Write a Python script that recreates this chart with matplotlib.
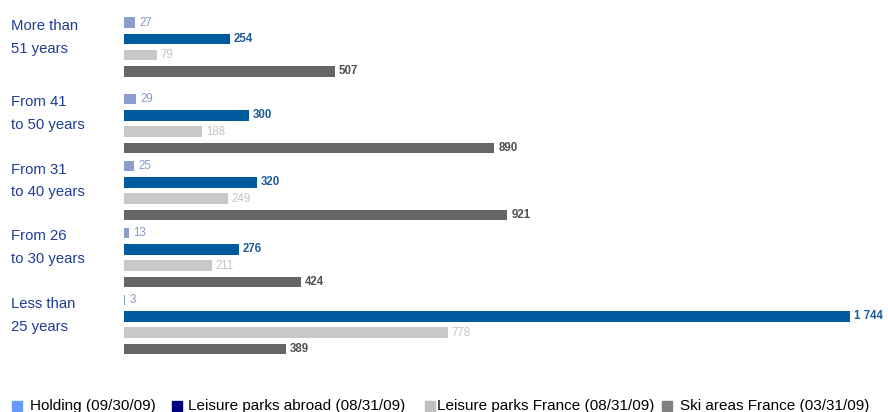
import matplotlib
matplotlib.use("Agg")
import matplotlib.pyplot as plt
from matplotlib.patches import Rectangle
from matplotlib import font_manager

plt.rcParams['font.family'] = ['Liberation Sans', 'DejaVu Sans']

categories = ["More than\n51 years", "From 41\nto 50 years", "From 31\nto 40 years",
              "From 26\nto 30 years", "Less than\n25 years"]
series = ["Holding (09/30/09)", "Leisure parks abroad (08/31/09)",
          "Leisure parks France (08/31/09)", "Ski areas France (03/31/09)"]
holding = [27, 29, 25, 13, 3]
parks_abroad = [254, 300, 320, 276, 1744]
parks_france = [79, 188, 249, 211, 778]
ski_france = [507, 890, 921, 424, 389]
values = [holding, parks_abroad, parks_france, ski_france]

bar_colors = ["#8a9dcc", "#005a9e", "#c8c8c8", "#666666"]
text_colors = ["#8497c8", "#1b5ca0", "#c4c4c4", "#505050"]
legend_colors = ["#6699ff", "#000080", "#c0c0c0", "#808080"]

names = {f.name for f in font_manager.fontManager.ttflist}
narrow = 'Liberation Sans Narrow' if 'Liberation Sans Narrow' in names else 'Liberation Sans'

W, H = 888, 412
fig = plt.figure(figsize=(W / 100, H / 100), dpi=100)
ax = fig.add_axes([0, 0, 1, 1])
x0 = 124
scale = (850 - x0) / 1744.0
ax.set_xlim(-x0 / scale, (W - x0) / scale)
ax.set_ylim(H, 0)
ax.axis("off")

group_top = [22.5, 99, 166, 233, 300]
step = 16.3
for gi, gy in enumerate(group_top):
    for si in range(4):
        v = values[si][gi]
        y = gy + si * step
        ax.barh(y, v, height=10.5, color=bar_colors[si], left=0)
        ax.text(v + 4 / scale, y, "{:,}".format(v).replace(",", " "),
                va="center", ha="left", fontsize=8.3, color=text_colors[si],
                fontfamily=narrow, fontweight="bold" if si in (1, 3) else "normal")
    l1, l2 = categories[gi].split("\n")
    fig.text(11 / W, 1 - (gy + 3.5) / H, l1, fontsize=10.7, color="#1f3c96",
             va="center", ha="left")
    fig.text(11 / W, 1 - (gy + 26.5) / H, l2, fontsize=10.7, color="#1f3c96",
             va="center", ha="left")

sq_x = [12, 172, 425, 662]
txt_x = [30, 188, 437, 680]
leg_y = 406
for i, name in enumerate(series):
    fig.patches.append(Rectangle((sq_x[i] / W, 1 - (leg_y + 5) / H), 10 / W, 10 / H,
                                 transform=fig.transFigure, color=legend_colors[i]))
    fig.text(txt_x[i] / W, 1 - leg_y / H, name, fontsize=11, color="black",
             va="center", ha="left")

fig.savefig("out.png", dpi=100)
